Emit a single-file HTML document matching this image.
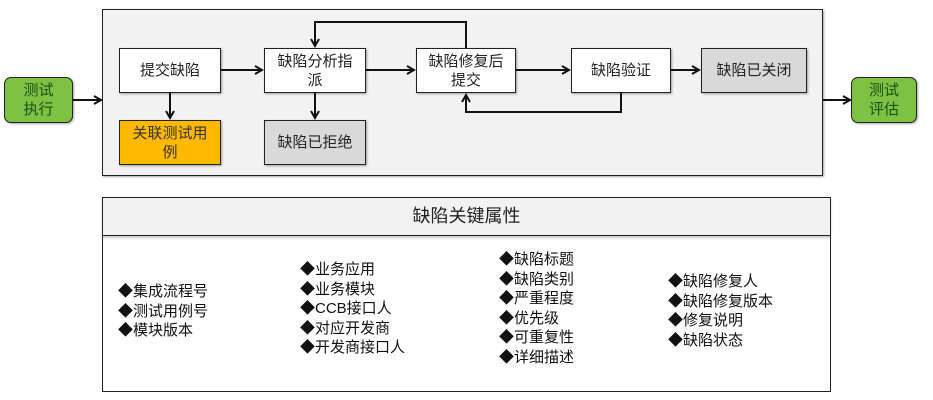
<!DOCTYPE html>
<html><head><meta charset="utf-8"><style>
body{margin:0;width:933px;height:400px;background:#fff;position:relative;font-family:"Liberation Sans","Microsoft YaHei","Noto Sans CJK SC",sans-serif;overflow:hidden}
.b{position:absolute;box-sizing:border-box;border:1.5px solid #222;display:flex;align-items:center;justify-content:center;text-align:center;font-size:15px;line-height:19px;color:#222;box-shadow:1px 1px 2px rgba(0,0,0,.35)}
.g{background:#7dc242;border-radius:7px;color:#1d4d12;font-size:15px}
.w{background:#fff}.gr{background:#d9d9d9}.o{background:#ffb900}
.t{position:absolute;font-size:15px;line-height:19.5px;color:#111;white-space:nowrap;font-family:"Liberation Sans","Noto Sans CJK SC",sans-serif}
</style></head><body>
<div class="b" style="left:102px;top:9px;width:721px;height:167px;background:#f2f2f2;border-width:1px"></div>
<div class="b g" style="left:4px;top:77px;width:69px;height:46px">测试<br>执行</div>
<div class="b g" style="left:851px;top:77px;width:66px;height:46px">测试<br>评估</div>
<div class="b w" style="left:119px;top:48px;width:102px;height:45px">提交缺陷</div>
<div class="b w" style="left:264px;top:48px;width:102px;height:45px">缺陷分析指<br>派</div>
<div class="b w" style="left:416px;top:48px;width:100px;height:45px">缺陷修复后<br>提交</div>
<div class="b w" style="left:571px;top:48px;width:100px;height:45px">缺陷验证</div>
<div class="b gr" style="left:701px;top:48px;width:106px;height:45px">缺陷已关闭</div>
<div class="b o" style="left:119px;top:120px;width:102px;height:45px;color:#333">关联测试用<br>例</div>
<div class="b gr" style="left:264px;top:120px;width:102px;height:45px">缺陷已拒绝</div>
<svg width="933" height="400" style="position:absolute;left:0;top:0" fill="none" stroke="#111" stroke-width="2">
<defs><marker id="a" markerWidth="10" markerHeight="10" refX="8" refY="5" orient="auto" markerUnits="userSpaceOnUse"><path d="M1,1 L8,5 L1,9" fill="none" stroke="#111" stroke-width="2"/></marker></defs>
<line x1="73" y1="100" x2="101" y2="100" marker-end="url(#a)"/>
<line x1="823" y1="100" x2="850" y2="100" marker-end="url(#a)"/>
<line x1="221" y1="70" x2="262" y2="70" marker-end="url(#a)"/>
<line x1="366" y1="70" x2="414" y2="70" marker-end="url(#a)"/>
<line x1="516" y1="70" x2="569" y2="70" marker-end="url(#a)"/>
<line x1="671" y1="70" x2="699" y2="70" marker-end="url(#a)"/>
<line x1="170" y1="93" x2="170" y2="118" marker-end="url(#a)"/>
<line x1="315" y1="93" x2="315" y2="118" marker-end="url(#a)"/>
<polyline points="466,48 466,22 315,22 315,46" marker-end="url(#a)"/>
<polyline points="621,93 621,112 466,112 466,95" marker-end="url(#a)"/>
</svg>
<div class="b" style="left:102px;top:197px;width:729px;height:195px;background:#fff;border-width:1px;box-shadow:none"></div>
<div class="b" style="left:102px;top:197px;width:729px;height:39px;background:#f2f2f2;border-width:1px;font-size:18px;box-shadow:0 2px 2px rgba(0,0,0,.2)">缺陷关键属性</div>
<div class="t" style="left:118px;top:282px">◆集成流程号<br>◆测试用例号<br>◆模块版本</div>
<div class="t" style="left:300px;top:260px">◆业务应用<br>◆业务模块<br>◆CCB接口人<br>◆对应开发商<br>◆开发商接口人</div>
<div class="t" style="left:499px;top:250px">◆缺陷标题<br>◆缺陷类别<br>◆严重程度<br>◆优先级<br>◆可重复性<br>◆详细描述</div>
<div class="t" style="left:668px;top:272px">◆缺陷修复人<br>◆缺陷修复版本<br>◆修复说明<br>◆缺陷状态</div>
</body></html>
